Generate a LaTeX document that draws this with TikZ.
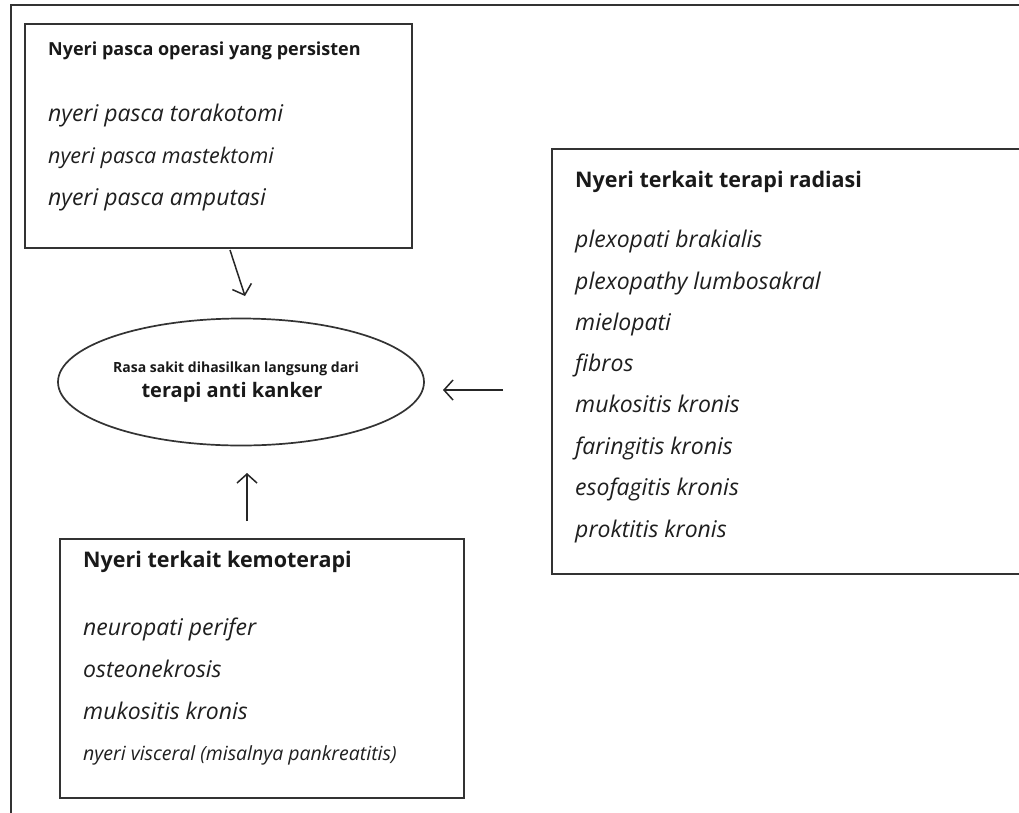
\documentclass[tikz,border=0pt]{standalone}
\usepackage{fontspec}
\setmainfont{Open Sans}
\usetikzlibrary{arrows.meta,shapes.geometric}
\begin{document}
\begin{tikzpicture}[x=1pt,y=-1pt,
  frame/.style={draw=black!80, line width=1.7pt},
  boxn/.style={frame, rectangle, anchor=north west, inner sep=0pt},
  ttl/.style={anchor=mid west, font=\bfseries\fontsize{#1}{#1}\selectfont, text=black!90, inner sep=0pt},
  itm/.style={anchor=mid west, font=\itshape\fontsize{#1}{#1}\selectfont, text=black!88, inner sep=0pt},
  arr/.style={draw=black!85, line width=1.5pt, -{Straight Barb[length=9pt,width=20pt,line width=1.5pt]}}
]
\useasboundingbox (0,0) rectangle (1019,812);
\clip (0,0) rectangle (1019,812);
\fill[white] (0,0) rectangle (1019,812);

% outer frame
\node[boxn, minimum width=1030pt, minimum height=830pt] (outer) at (10,4) {};

% boxes
\node[boxn, minimum width=387pt, minimum height=224pt] (b1) at (24,23) {};
\node[boxn, minimum width=500pt, minimum height=425pt] (b2) at (551,148) {};
\node[boxn, minimum width=404pt, minimum height=259pt] (b3) at (59,538) {};

% ellipse
\node[frame, ellipse, minimum width=366pt, minimum height=127pt, inner sep=0pt, align=center, text=black!90] (ell) at (241,382)
  {{\bfseries\fontsize{14}{16}\selectfont Rasa sakit dihasilkan langsung dari\hspace*{10pt}}\\[6pt]
   {\bfseries\fontsize{20}{22}\selectfont terapi anti kanker\hspace*{18pt}}};

% box 1 text
\node[ttl=18] (t1) at (48,53) {Nyeri pasca operasi yang persisten};
\node[itm=23] (t1a) at (48,119) {nyeri pasca torakotomi};
\node[itm=21.5] (t1b) at (48,161) {nyeri pasca mastektomi};
\node[itm=23] (t1c) at (48,203) {nyeri pasca amputasi};

% box 2 text
\node[ttl=21.5] (t2) at (575,185) {Nyeri terkait terapi radiasi};
\node[itm=23] (t2a) at (575,245) {plexopati brakialis};
\node[itm=23] (t2b) at (575,287) {plexopathy lumbosakral};
\node[itm=23] (t2c) at (575,328) {mielopati};
\node[itm=23] (t2d) at (575,369) {fibros};
\node[itm=23] (t2e) at (575,410) {mukositis kronis};
\node[itm=23] (t2f) at (575,452) {faringitis kronis};
\node[itm=23] (t2g) at (575,493) {esofagitis kronis};
\node[itm=23] (t2h) at (575,535) {proktitis kronis};

% box 3 text
\node[ttl=21.5] (t3) at (83,565) {Nyeri terkait kemoterapi};
\node[itm=23] (t3a) at (83,633) {neuropati perifer};
\node[itm=23] (t3b) at (83,675) {osteonekrosis};
\node[itm=23] (t3c) at (83,717) {mukositis kronis};
\node[itm=19.5] (t3d) at (83,758) {nyeri visceral (misalnya pankreatitis)};

% arrows
\coordinate (a1s) at (230,250);
\coordinate (a1e) at (245,296);
\coordinate (a2s) at (503,390);
\coordinate (a2e) at (443,390);
\coordinate (a3s) at (247,521);
\coordinate (a3e) at (247,473);
\draw[arr] (a1s) -- (a1e);
\draw[arr] (a2s) -- (a2e);
\draw[arr] (a3s) -- (a3e);
\end{tikzpicture}
\end{document}
